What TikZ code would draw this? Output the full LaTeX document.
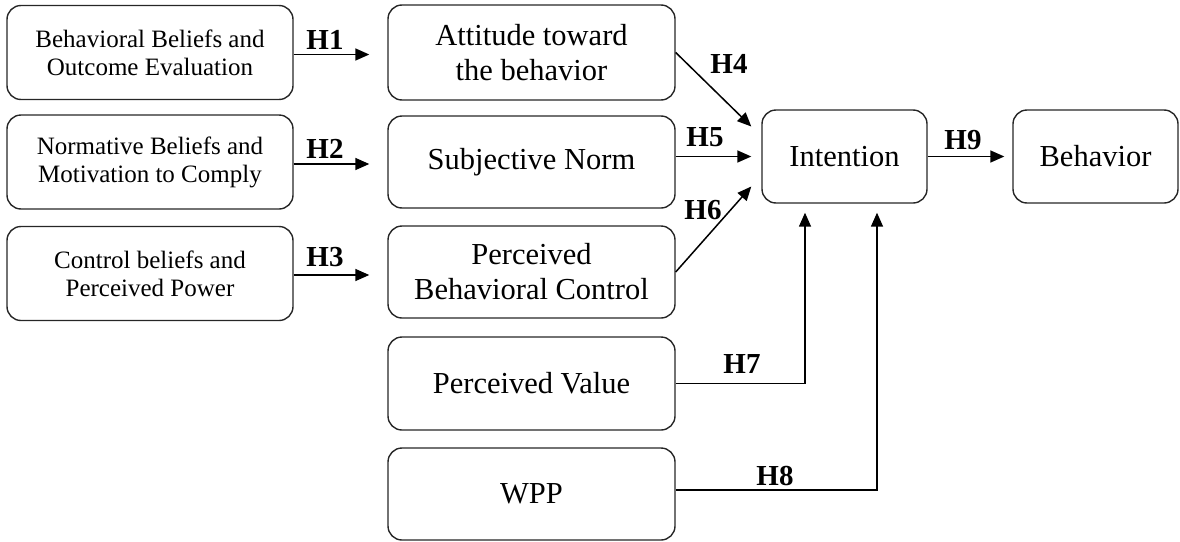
\documentclass[tikz,border=0pt]{standalone}
\usepackage{fontspec}
\setmainfont{Liberation Serif}
\usetikzlibrary{arrows.meta,calc}
\begin{document}
\begin{tikzpicture}[x=1pt,y=-1pt,
  box/.style={draw=black!85,line width=1.4pt,rounded corners=14pt,align=center,inner sep=0pt},
  leftbox/.style={box,minimum width=286pt,minimum height=94pt,font=\fontsize{25}{28}\selectfont},
  midbox/.style={box,minimum width=287pt,minimum height=93pt,font=\fontsize{30.5}{35}\selectfont},
  endbox/.style={box,minimum width=165pt,minimum height=93pt,font=\fontsize{30.5}{35}\selectfont},
  hlab/.style={font=\bfseries\fontsize{29}{32}\selectfont,inner sep=0pt},
  conn/.style={line width=1.5pt,-{Triangle[length=14pt,width=12pt]}}]
\useasboundingbox (0,0) rectangle (1180,541);
% left column
\node[leftbox] (b1) at (150,52.5) {Behavioral Beliefs and\\Outcome Evaluation};
\node[leftbox] (b2) at (150,162) {Normative Beliefs and\\Motivation to Comply};
\node[leftbox] (b3) at (150,273.5) {Control beliefs and\\Perceived Power};
% middle column
\node[midbox,minimum height=95pt] (att) at (531.5,52.5) {Attitude toward\\the behavior};
\node[midbox,minimum height=92pt] (sn) at (531.5,162) {Subjective Norm};
\node[midbox,minimum height=92pt] (pbc) at (531.5,272) {Perceived\\Behavioral Control};
\node[midbox] (pv) at (531.5,383.5) {Perceived Value};
\node[midbox,minimum height=92pt] (wpp) at (531.5,494) {WPP};
% right
\node[endbox] (int) at (844.5,156.5) {Intention};
\node[endbox] (beh) at (1095.5,156.5) {Behavior};
% end coordinates
\coordinate (h4end) at ($(int.west)+(-10,-30)$);
\coordinate (h6end) at ($(int.west)+(-10,30)$);
\coordinate (h7end) at ($(int.south)+(-39.5,9)$);
\coordinate (h8end) at ($(int.south)+(32.5,9)$);
% connectors
\draw[conn,shorten >=18pt] ($(b1.east)+(0,2)$) -- ($(att.west |- b1.east)+(0,2)$);
\draw[conn,shorten >=18pt] ($(b2.east)+(0,2)$) -- ($(sn.west |- b2.east)+(0,2)$);
\draw[conn,shorten >=18pt] ($(b3.east)+(0,1.5)$) -- ($(pbc.west |- b3.east)+(0,1.5)$);
\draw[conn] (att.east) -- (h4end);
\draw[conn,shorten >=10pt] (sn.east |- int.west) -- (int.west);
\draw[conn] (pbc.east) -- (h6end);
\draw[conn] (pv.east) -| (h7end);
\draw[conn] ($(wpp.east)+(0,-4)$) -| (h8end);
\draw[conn,shorten >=8pt] (int.east) -- (beh.west);
% labels
\node[hlab] (l1) at (325,40) {H1};
\node[hlab] (l2) at (325,149) {H2};
\node[hlab] (l3) at (325,257) {H3};
\node[hlab] (l4) at (729,64) {H4};
\node[hlab] (l5) at (705,137) {H5};
\node[hlab] (l6) at (703,210) {H6};
\node[hlab] (l7) at (742,364) {H7};
\node[hlab] (l8) at (775,476) {H8};
\node[hlab] (l9) at (963,140) {H9};
\end{tikzpicture}
\end{document}
